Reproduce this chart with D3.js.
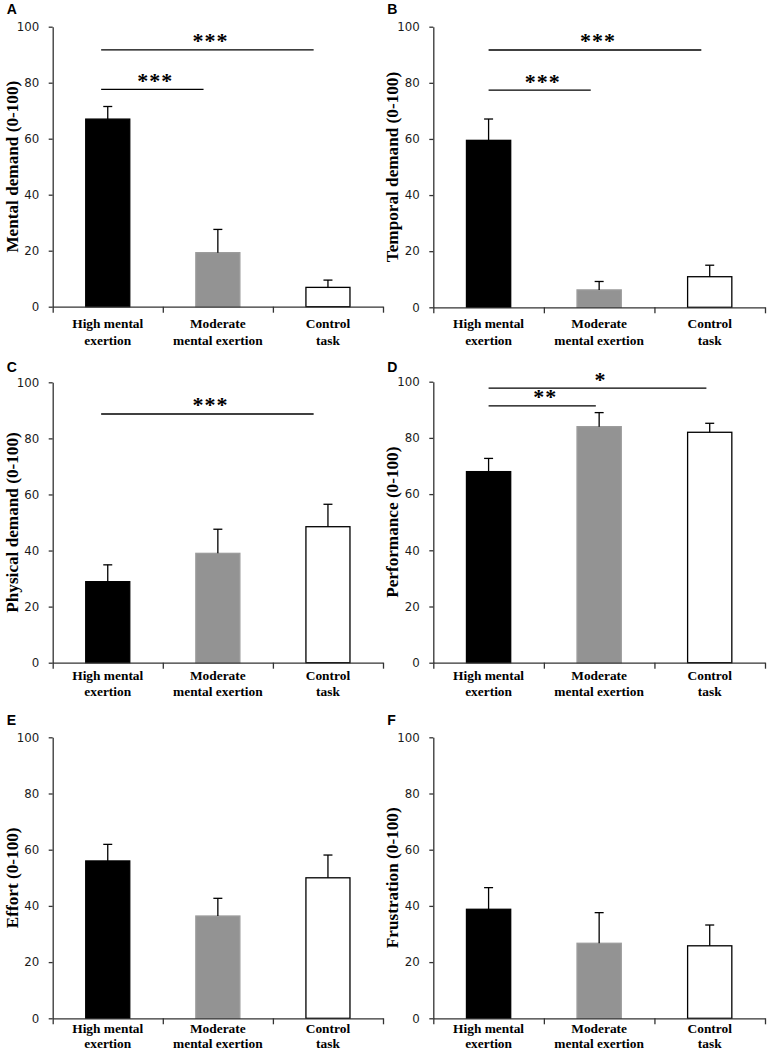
<!DOCTYPE html>
<html>
<head>
<meta charset="utf-8">
<script src="https://cdn.jsdelivr.net/npm/d3@7"></script>
<style>
  html, body { margin: 0; padding: 0; background: #fff; }
  svg { display: block; }
</style>
</head>
<body>
<svg id="chart" width="767" height="1054"></svg>
<script>
// ---------- DATA ----------
const categories = ["High mental exertion", "Moderate mental exertion", "Control task"];
const categoryLines = [["High mental", "exertion"], ["Moderate", "mental exertion"], ["Control", "task"]];
const yTicks = [0, 20, 40, 60, 80, 100];

const mentalDemand = [67.0, 19.3, 6.9];
const mentalDemandErr = [4.5, 8.3, 2.6];
const temporalDemand = [59.5, 6.2, 10.9];
const temporalDemandErr = [7.6, 3.0, 4.1];
const physicalDemand = [28.9, 39.0, 48.5];
const physicalDemandErr = [6.0, 8.6, 8.0];
const performance = [68.0, 84.0, 82.0];
const performanceErr = [4.7, 5.0, 3.2];
const effort = [56.0, 36.4, 50.0];
const effortErr = [5.9, 6.3, 8.1];
const frustration = [38.8, 26.7, 25.8];
const frustrationErr = [7.7, 10.9, 7.4];

// significance brackets: from / to category index, level, label
const sigA = [{from: 0, to: 2, level: 91.7, label: "***"}, {from: 0, to: 1, level: 77.6, label: "***"}];
const sigB = [{from: 0, to: 2, level: 91.7, label: "***"}, {from: 0, to: 1, level: 77.4, label: "***"}];
const sigC = [{from: 0, to: 2, level: 88.7, label: "***"}];
const sigD = [{from: 0, to: 2, level: 97.7, label: "*"}, {from: 0, to: 1, level: 91.4, label: "**"}];

// ---------- LAYOUT ----------
const barFill = ["#000000", "#939393", "#ffffff"];
const barStroke = ["#000000", "#9c9c9c", "#000000"];

const panels = [
  {id: "A", title: "Mental demand (0-100)", values: mentalDemand, errors: mentalDemandErr, sig: sigA,
   x0: 52.7, x1: 383, yTop: 26.7, yBot: 306.7, labelY: 13.5, startOff: -0.06, endOff: -0.13, catY: 21, catGap: 17},
  {id: "B", title: "Temporal demand (0-100)", values: temporalDemand, errors: temporalDemandErr, sig: sigB,
   x0: 433.3, x1: 765, yTop: 26.7, yBot: 307.3, labelY: 13.5, startOff: 0, endOff: -0.076, catY: 21, catGap: 17},
  {id: "C", title: "Physical demand (0-100)", values: physicalDemand, errors: physicalDemandErr, sig: sigC,
   x0: 52.7, x1: 383, yTop: 382.3, yBot: 662.7, labelY: 371.7, startOff: -0.06, endOff: -0.13, catY: 17.5, catGap: 16},
  {id: "D", title: "Performance (0-100)", values: performance, errors: performanceErr, sig: sigD,
   x0: 433.3, x1: 765, yTop: 381.7, yBot: 662.7, labelY: 371.7, startOff: 0, endOff: -0.03, catY: 17.5, catGap: 16},
  {id: "E", title: "Effort (0-100)", values: effort, errors: effortErr, sig: [],
   x0: 52.7, x1: 383, yTop: 737.3, yBot: 1018.3, labelY: 725, startOff: 0, endOff: 0, catY: 15, catGap: 15},
  {id: "F", title: "Frustration (0-100)", values: frustration, errors: frustrationErr, sig: [],
   x0: 433.3, x1: 765, yTop: 737.3, yBot: 1018.3, labelY: 725, startOff: 0, endOff: 0, catY: 15, catGap: 15}
];

const svg = d3.select("#chart");
const axisColor = "#333";

panels.forEach(p => {
  const g = svg.append("g");
  const y = d3.scaleLinear().domain([0, 100]).range([p.yBot, p.yTop]);
  const xb = d3.scaleBand().domain(categories).range([p.x0, p.x1])
    .paddingInner(0.6).paddingOuter(0.3);
  const xi = d3.scaleLinear().domain([0, 3]).range([p.x0, p.x1]);
  const xc = i => xb(categories[i]) + xb.bandwidth() / 2;
  const step = xb.step();

  // bars
  g.selectAll("rect.bar").data(p.values).join("rect")
    .attr("class", "bar")
    .attr("x", (d, i) => xb(categories[i]))
    .attr("width", xb.bandwidth())
    .attr("y", d => y(d))
    .attr("height", d => y(0) - y(d))
    .attr("fill", (d, i) => barFill[i])
    .attr("stroke", (d, i) => barStroke[i])
    .attr("stroke-width", 1.3);

  // error bars (upper only)
  p.values.forEach((v, i) => {
    const cx = xc(i);
    g.append("line").attr("x1", cx).attr("x2", cx)
      .attr("y1", y(v)).attr("y2", y(v + p.errors[i]))
      .attr("stroke", "#000").attr("stroke-width", 1.3);
    g.append("line").attr("x1", cx - 4.5).attr("x2", cx + 4.5)
      .attr("y1", y(v + p.errors[i])).attr("y2", y(v + p.errors[i]))
      .attr("stroke", "#000").attr("stroke-width", 1.3);
  });

  // y axis
  const ya = g.append("g").attr("transform", `translate(${p.x0},0)`)
    .call(d3.axisLeft(y).tickValues(yTicks).tickSize(4).tickSizeOuter(0).tickPadding(9.5));
  ya.select(".domain").attr("stroke", axisColor).attr("stroke-width", 1.3);
  ya.selectAll(".tick line").attr("stroke", axisColor).attr("stroke-width", 1.3);
  ya.selectAll(".tick text").attr("font-family", "DejaVu Sans, Verdana, sans-serif")
    .attr("font-size", "11.8px").attr("fill", "#1a1a1a");

  // x axis
  const xa = g.append("g").attr("transform", `translate(0,${p.yBot})`)
    .call(d3.axisBottom(xi).tickValues([0, 1, 2, 3]).tickSize(6).tickSizeOuter(0).tickFormat(""));
  xa.select(".domain").attr("stroke", axisColor).attr("stroke-width", 1.3);
  xa.selectAll(".tick line").attr("stroke", axisColor).attr("stroke-width", 1.3);

  // category labels
  categoryLines.forEach((lines, i) => {
    const t = g.append("text")
      .attr("x", xc(i)).attr("y", p.yBot + p.catY)
      .attr("text-anchor", "middle")
      .attr("font-family", "Liberation Serif, Times New Roman, serif")
      .attr("font-weight", "bold").attr("font-size", "13.4px").attr("fill", "#000");
    lines.forEach((ln, k) => {
      t.append("tspan").attr("x", xc(i)).attr("dy", k === 0 ? 0 : p.catGap).text(ln);
    });
  });

  // y title
  g.append("text")
    .attr("transform", `translate(${p.x0 - 35},${(p.yTop + p.yBot) / 2}) rotate(-90)`)
    .attr("text-anchor", "middle")
    .attr("font-family", "Liberation Serif, Times New Roman, serif")
    .attr("font-weight", "bold").attr("font-size", "17.2px").attr("fill", "#000")
    .text(p.title);

  // panel letter
  g.append("text")
    .attr("x", p.x0 - 46).attr("y", p.labelY)
    .attr("font-family", "Liberation Sans, Arial, sans-serif")
    .attr("font-weight", "bold").attr("font-size", "14px").attr("fill", "#000")
    .text(p.id);

  // significance brackets
  p.sig.forEach(s => {
    const xs = xc(s.from) + p.startOff * step;
    const xe = xc(s.to) + p.endOff * step;
    const ly = y(s.level);
    g.append("line").attr("x1", xs).attr("x2", xe).attr("y1", ly).attr("y2", ly)
      .attr("stroke", "#000").attr("stroke-width", 1.3);
    g.append("text")
      .attr("x", (xs + xe) / 2 + 3).attr("y", ly - 1.5)
      .attr("text-anchor", "middle")
      .attr("font-family", "Liberation Serif, Times New Roman, serif")
      .attr("font-weight", "bold")
      .attr("font-size", "22px").attr("letter-spacing", "1px").attr("fill", "#000")
      .text(s.label);
  });
});
</script>
</body>
</html>
